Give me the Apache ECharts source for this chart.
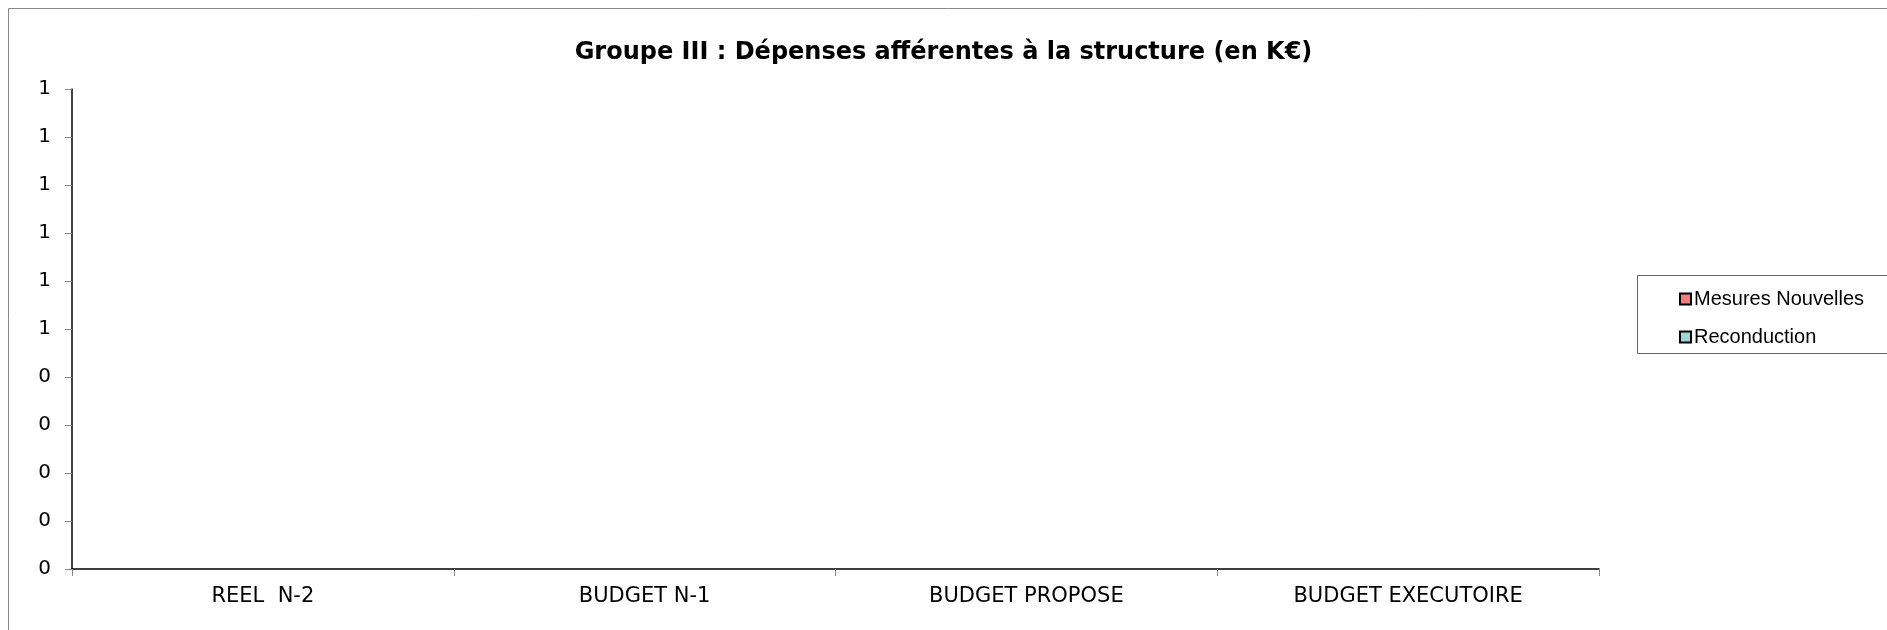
<!DOCTYPE html>
<html>
<head>
<meta charset="utf-8">
<script src="https://cdn.jsdelivr.net/npm/echarts@6/dist/echarts.min.js"></script>
<style>html,body{margin:0;padding:0;background:#fff}#c{width:1887px;height:630px}</style>
</head>
<body>
<div id="c"></div>
<script>
const categories = ['REEL  N-2', 'BUDGET N-1', 'BUDGET PROPOSE', 'BUDGET EXECUTOIRE'];
const seriesNames = ['Mesures Nouvelles', 'Reconduction'];
const mesuresNouvelles = [0, 0, 0, 0];
const reconduction = [0, 0, 0, 0];
const yMin = 0, yMax = 1, yInterval = 0.1;

const chart = echarts.init(document.getElementById('c'));
chart.setOption({
  animation: false,
  backgroundColor: '#fff',
  title: {
    text: 'Groupe III : Dépenses afférentes à la structure (en K€)',
    left: 'center', top: 36,
    textStyle: {fontFamily: 'DejaVu Sans', fontWeight: 'bold', fontSize: 24, color: '#000'}
  },
  graphic: [
    {type: 'rect', shape: {x: 8.5, y: 8.5, width: 1900, height: 700}, style: {fill: 'none', stroke: '#888', lineWidth: 1}, silent: true},
    {type: 'rect', shape: {x: 1637.5, y: 275.5, width: 300, height: 78}, style: {fill: '#fff', stroke: '#666', lineWidth: 1}, silent: true, z: 0}
  ],
  legend: {
    orient: 'vertical', left: 1674, top: 284,
    icon: 'rect', itemWidth: 11, itemHeight: 11, itemGap: 18,
    textStyle: {fontFamily: 'Liberation Sans', fontSize: 20, color: '#000', padding: [0, 0, 0, -2]},
    itemStyle: {borderColor: '#000', borderWidth: 2},
    data: seriesNames,
    z: 5
  },
  grid: {left: 72, right: 288, top: 89, bottom: 61, containLabel: false},
  xAxis: {
    type: 'category', data: categories, boundaryGap: true,
    axisLine: {lineStyle: {color: '#000', width: 1.5}},
    axisTick: {show: true, length: 7, lineStyle: {color: '#888'}},
    axisLabel: {fontFamily: 'DejaVu Sans', fontSize: 21, color: '#000', margin: 17}
  },
  yAxis: {
    type: 'value', min: yMin, max: yMax, interval: yInterval,
    axisLine: {show: true, lineStyle: {color: '#000', width: 1.5}},
    axisTick: {show: true, length: 7, lineStyle: {color: '#888'}},
    splitLine: {show: false},
    axisLabel: {fontFamily: 'DejaVu Sans', fontSize: 20, color: '#000', margin: 21,
      formatter: v => String(Math.round(v + 1e-9))}
  },
  series: [
    {name: seriesNames[1], type: 'bar', stack: 'a', data: reconduction, itemStyle: {color: '#9ed6d6'}},
    {name: seriesNames[0], type: 'bar', stack: 'a', data: mesuresNouvelles, itemStyle: {color: '#f27b7b'}}
  ]
});
</script>
</body>
</html>
